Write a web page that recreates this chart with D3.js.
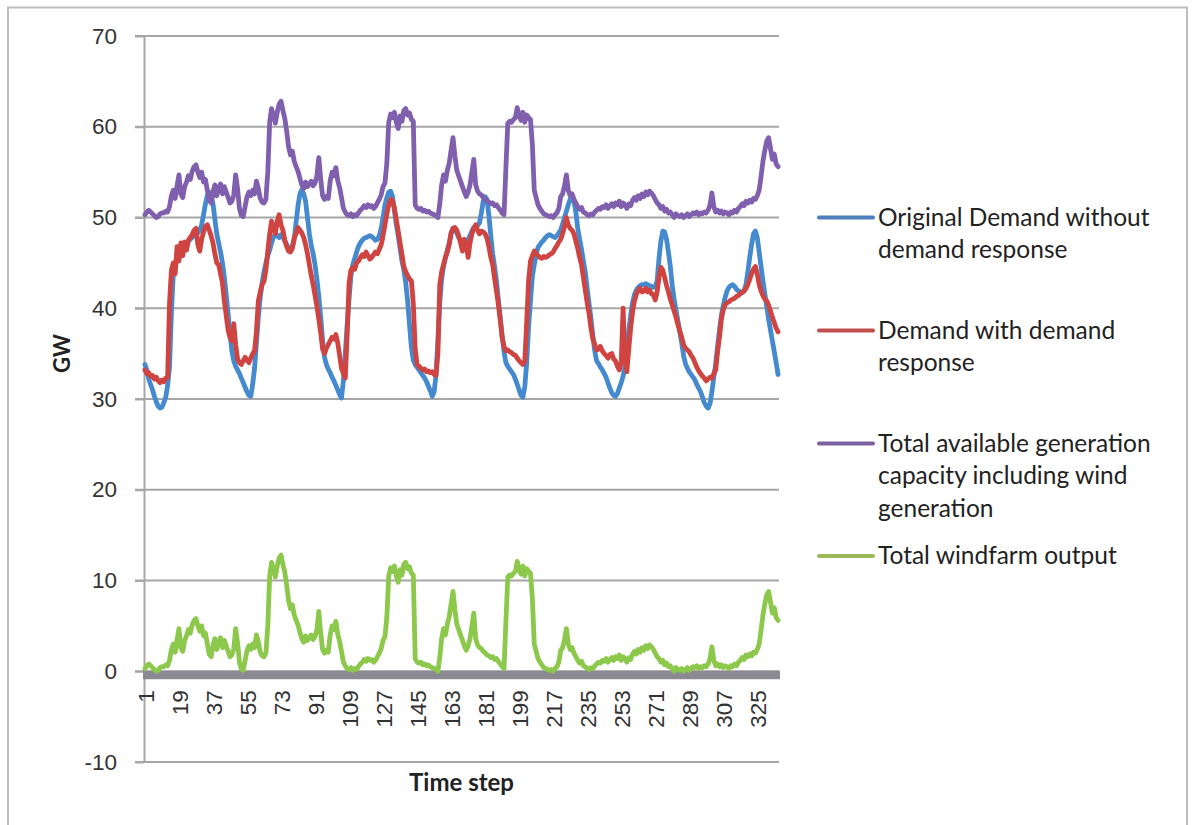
<!DOCTYPE html>
<html>
<head>
<meta charset="utf-8">
<script src="https://cdn.jsdelivr.net/npm/d3@7"></script>
<style>
  body { margin: 0; background: #ffffff; }
  svg { display: block; font-family: Lato, "Open Sans", sans-serif; }
</style>
</head>
<body>
<svg id="chart" width="1193" height="825"></svg>
<script>
// Half-hourly time steps over one week (336 steps)
const timeSteps = d3.range(1, 337);

// Original Demand without demand response (GW)
const originalDemand = [
  33.8, 33.2, 32.2, 31.6, 31.0, 30.3, 29.7, 29.2, 29.0, 29.1, 29.6, 30.2,
  31.5, 33.5, 39.5, 43.8, 44.8, 45.5, 46.0, 46.3, 46.6, 46.9, 47.2, 47.4,
  47.6, 47.8, 48.0, 48.2, 48.3, 48.6, 49.2, 50.3, 51.5, 52.4, 52.8, 52.6,
  51.5, 49.8, 48.2, 47.2, 46.2, 45.0, 43.4, 41.5, 39.4, 37.2, 35.3, 34.2,
  33.6, 33.2, 32.8, 32.3, 31.8, 31.3, 30.8, 30.4, 30.3, 31.6, 33.4, 36.2,
  39.0, 41.2, 42.8, 44.0, 45.0, 45.8, 46.4, 47.2, 47.8, 48.2, 48.0, 47.8,
  48.1, 47.9, 47.4, 47.0, 46.6, 46.4, 46.8, 47.6, 49.5, 51.3, 52.6, 53.1,
  52.6, 51.8, 50.0, 48.2, 46.9, 46.0, 44.8, 43.2, 41.3, 39.0, 36.5, 34.6,
  33.8, 33.3, 32.9, 32.4, 32.0, 31.5, 31.0, 30.5, 30.1, 32.0, 35.0, 38.2,
  41.0, 43.6, 44.8, 45.5, 46.2, 46.8, 47.2, 47.5, 47.7, 47.8, 47.9, 48.0,
  47.9, 47.7, 47.5, 47.6, 48.0, 48.8, 50.0, 51.4, 52.2, 52.8, 52.9, 52.3,
  50.8, 49.2, 48.0, 46.6, 45.2, 44.2, 42.8, 40.8, 38.2, 35.6, 34.3, 33.8,
  33.5, 33.2, 32.9, 32.6, 32.3, 31.9, 31.4, 30.9, 30.3, 30.8, 32.6, 36.5,
  40.6, 43.2, 44.6, 45.6, 46.4, 47.2, 48.2, 48.8, 48.6, 48.3, 47.8, 47.5,
  47.2, 47.0, 47.2, 47.6, 48.0, 48.5, 48.9, 49.0, 49.1, 49.4, 50.5, 51.8,
  52.3, 52.0, 50.2, 48.0, 46.0, 44.6, 43.0, 41.0, 39.0, 37.0, 35.2, 34.0,
  33.6, 33.3, 33.0, 32.7, 32.2, 31.6, 31.0, 30.4, 30.2, 31.4, 34.0, 38.0,
  40.8, 43.5, 44.8, 45.9, 46.7, 47.0, 47.3, 47.5, 47.8, 48.0, 48.1, 48.0,
  47.9, 47.8, 48.0, 48.3, 48.6, 49.3, 50.0, 50.7, 51.4, 52.0, 52.2, 51.8,
  50.6, 48.8, 47.6, 46.5, 45.2, 44.0, 42.2, 40.5, 38.9, 37.0, 35.3, 34.2,
  33.9, 33.5, 33.2, 32.8, 32.4, 31.8, 31.2, 30.7, 30.4, 30.3, 30.6, 31.2,
  31.8, 32.5, 33.6, 35.5, 37.5, 39.2, 40.6, 41.5, 42.0, 42.3, 42.5, 42.6,
  42.6, 42.7, 42.6, 42.5, 42.4, 42.3, 42.4, 43.0, 45.5, 47.4, 48.5, 48.4,
  47.6, 46.2, 44.6, 42.5, 41.0, 39.8, 38.6, 37.4, 36.2, 34.8, 33.9, 33.4,
  33.0, 32.7, 32.4, 32.1, 31.6, 31.2, 30.8, 30.2, 29.6, 29.2, 29.0, 29.5,
  30.8, 32.4, 33.9, 35.8, 37.6, 39.2, 40.3, 41.2, 41.9, 42.3, 42.5, 42.6,
  42.4, 42.1, 41.9, 41.8, 41.7, 41.9, 42.6, 44.0, 45.6, 47.0, 48.2, 48.5,
  47.8, 46.2, 44.6, 43.0, 41.6, 40.2, 38.8, 37.6, 36.4, 35.2, 34.0, 32.7
];

// Demand with demand response (GW)
const demandWithResponse = [
  33.2, 32.8, 32.9, 32.5, 32.6, 32.2, 32.4, 32.0, 31.8, 32.1, 31.9, 32.3,
  32.4, 40.5, 44.2, 45.0, 43.8, 46.8, 45.2, 47.2, 45.8, 47.3, 46.4, 47.5,
  47.8, 48.1, 48.6, 48.8, 47.0, 46.3, 47.6, 48.4, 49.0, 49.2, 48.6, 48.0,
  47.2, 46.0, 45.0, 44.8, 43.8, 42.8, 40.8, 39.2, 37.6, 36.8, 36.4, 38.3,
  36.0, 34.4, 34.0, 33.8, 34.2, 34.6, 34.3, 34.0, 34.5, 35.0, 35.3, 37.5,
  40.8, 41.8, 42.6, 43.0, 44.2, 46.3, 48.2, 49.6, 48.8, 48.2, 49.6, 50.3,
  49.2, 48.6, 47.5, 46.8, 46.3, 46.2, 46.6, 47.8, 48.2, 48.9, 48.6, 48.3,
  47.8, 47.0, 46.0, 44.8, 43.6, 42.6, 41.4, 40.2, 38.8, 37.3, 35.5, 35.0,
  35.6, 36.0, 36.4, 36.8, 36.6, 37.1, 36.2, 34.8, 33.4, 32.8, 32.3, 37.0,
  42.8, 44.2, 44.5, 44.3, 45.0, 45.2, 45.6, 45.9, 45.7, 46.2, 45.8, 45.4,
  45.6, 45.9, 46.2, 46.0, 46.5, 47.0, 48.0, 49.2, 50.4, 51.4, 52.0, 51.8,
  51.0, 49.8, 48.5, 47.2, 45.9, 44.6, 44.0, 43.6, 43.2, 43.0, 40.5, 35.5,
  33.8, 33.6, 33.4, 33.2, 33.3, 33.0, 33.1, 32.9, 33.0, 32.7, 32.6, 35.0,
  42.6, 44.0, 44.8, 45.6, 46.2, 47.0, 48.3, 48.8, 48.9, 48.6, 48.0, 47.2,
  46.3, 47.6, 47.0, 45.6, 47.2, 48.2, 48.8, 49.2, 48.6, 48.2, 48.5, 48.4,
  48.2, 47.7, 46.8, 45.6, 44.8, 43.3, 41.9, 40.4, 38.7, 36.8, 35.8, 35.3,
  35.4, 35.2, 35.1, 34.9, 34.8, 34.5, 34.2, 34.0, 33.8, 34.2, 38.5, 43.0,
  45.2, 45.8, 46.3, 46.0, 45.8, 45.6, 45.5, 45.7, 45.6, 45.7, 45.9, 46.0,
  46.2, 46.6, 46.9, 47.3, 47.6, 48.2, 49.0, 50.0, 49.2, 48.8, 48.6, 48.2,
  47.4, 46.6, 45.6, 44.8, 43.4, 42.0, 40.6, 39.4, 37.8, 36.6, 36.0, 35.4,
  35.5, 35.8, 35.3, 35.0, 34.8, 34.5, 34.9, 35.0, 34.4, 34.2, 33.6, 33.2,
  34.0, 40.0, 34.5, 33.0, 35.5, 37.8, 39.6, 40.8, 41.5, 42.0, 42.2, 41.8,
  41.9, 42.2, 41.8, 42.0, 41.6, 41.5, 40.9, 41.8, 43.4, 44.5, 44.2, 43.4,
  42.5, 41.8, 41.0, 40.4, 39.7, 39.0, 38.2, 37.5, 36.8, 36.0, 35.6, 35.4,
  35.2, 34.8, 34.5, 34.0, 33.5, 33.1, 32.8, 32.5, 32.3, 32.0, 32.2, 32.4,
  32.3, 32.8, 33.2, 35.2, 36.8, 38.8, 39.8, 40.4, 40.6, 40.7, 40.9, 41.0,
  41.1, 41.3, 41.4, 41.6, 41.8, 41.9, 42.2, 42.6, 43.2, 43.8, 44.3, 44.6,
  43.8, 42.6, 41.9, 41.4, 41.0, 40.8, 40.3, 39.7, 39.0, 38.4, 37.8, 37.4
];

// Total available generation capacity including wind generation (GW)
const availableCapacity = [
  50.3, 50.6, 50.8, 50.6, 50.4, 50.2, 50.0, 50.1, 50.4, 50.5, 50.5, 50.7,
  50.6, 51.2, 52.4, 53.0, 52.1, 53.5, 54.7, 52.6, 52.2, 53.4, 53.9, 54.6,
  54.2, 55.1, 55.6, 55.8, 55.0, 54.4, 55.0, 53.9, 54.2, 53.0, 51.9, 51.6,
  52.8, 53.6, 52.4, 53.2, 53.7, 52.6, 53.4, 52.8, 52.2, 51.6, 51.8, 52.5,
  54.7, 53.2, 51.0, 50.2, 50.1, 51.2, 52.3, 52.8, 52.4, 53.0, 52.6, 54.0,
  53.2, 52.1, 51.7, 51.6, 52.0, 55.0, 60.5, 62.0, 61.2, 60.4, 61.6, 62.5,
  62.8, 61.8, 60.9, 59.5, 57.8, 56.9, 57.3, 56.2, 55.6, 55.1, 54.3, 53.6,
  53.2, 53.9, 53.4, 53.7, 54.0, 53.5, 53.8, 54.6, 56.6, 54.2, 52.4, 52.0,
  52.3, 52.1, 54.0, 55.0, 54.6, 55.5, 54.1, 53.3, 52.2, 51.0, 50.6, 50.3,
  50.2, 50.4, 50.1, 50.3, 50.2, 50.5, 50.8, 51.0, 51.3, 51.1, 51.4, 51.2,
  51.3, 51.0, 51.2, 51.6, 52.0, 52.5, 53.4, 53.8, 56.0, 60.5, 61.4, 61.0,
  61.6, 60.5, 59.8, 61.2, 60.6, 61.8, 62.0, 61.3, 61.5, 60.8, 60.6, 51.4,
  51.0, 50.9, 51.0, 50.7, 50.8, 50.6, 50.7, 50.5, 50.4, 50.3, 50.2, 50.0,
  51.5, 53.6, 54.7, 54.0, 55.2, 56.0, 57.4, 58.8, 56.8, 55.2, 54.6, 54.0,
  53.4, 52.8, 52.3, 52.8, 53.6, 55.0, 56.4, 53.6, 52.9, 52.6, 52.5, 52.2,
  52.0, 51.8, 51.7, 51.5, 51.6, 51.3, 51.4, 51.1, 50.8, 50.5, 50.3, 55.5,
  60.4, 60.6, 60.5, 60.8, 61.0, 62.1, 61.2, 60.7, 61.6, 60.5, 61.3, 61.0,
  60.8, 58.0, 53.0, 52.2, 51.4, 51.0, 50.7, 50.4, 50.3, 50.2, 50.1, 50.2,
  50.0, 50.3, 50.5, 51.0, 52.3, 52.6, 53.5, 54.7, 53.0, 52.4, 52.6, 52.0,
  51.6, 51.2, 50.9, 51.1, 50.6, 50.5, 50.3, 50.2, 50.4, 50.3, 50.6, 50.8,
  51.0, 50.9, 51.2, 51.1, 51.4, 51.0, 51.3, 51.5, 51.2, 51.6, 51.4, 51.8,
  51.2, 51.6, 51.4, 51.0, 51.5, 51.3, 51.9, 52.2, 51.9, 52.4, 52.1, 52.6,
  52.3, 52.8, 52.5, 52.9, 52.7, 52.4, 52.0, 51.6, 51.4, 51.0, 51.2, 50.7,
  50.9, 50.5, 50.6, 50.3, 50.0, 50.4, 50.2, 50.1, 50.3, 50.0, 50.2, 50.4,
  50.1, 50.3, 50.5, 50.4, 50.6, 50.3, 50.5, 50.4, 50.6, 50.5, 50.8, 51.4,
  52.7, 51.2, 50.6, 50.8, 50.5, 50.7, 50.4, 50.6, 50.5, 50.3, 50.6, 50.5,
  50.8, 50.6, 51.0, 51.2, 51.5, 51.3, 51.8, 51.6, 51.9, 51.7, 52.1, 52.0,
  52.4, 53.0, 54.5, 56.2, 57.4, 58.4, 58.8, 57.6, 56.4, 57.0, 55.9, 55.6
];

// Total windfarm output (GW)
const windOutput = [
  0.3, 0.6, 0.8, 0.6, 0.4, 0.2, 0.0, 0.1, 0.4, 0.5, 0.5, 0.7,
  0.6, 1.2, 2.4, 3.0, 2.1, 3.5, 4.7, 2.6, 2.2, 3.4, 3.9, 4.6,
  4.2, 5.1, 5.6, 5.8, 5.0, 4.4, 5.0, 3.9, 4.2, 3.0, 1.9, 1.6,
  2.8, 3.6, 2.4, 3.2, 3.7, 2.6, 3.4, 2.8, 2.2, 1.6, 1.8, 2.5,
  4.7, 3.2, 1.0, 0.2, 0.1, 1.2, 2.3, 2.8, 2.4, 3.0, 2.6, 4.0,
  3.2, 2.1, 1.7, 1.6, 2.0, 5.0, 10.5, 12.0, 11.2, 10.4, 11.6, 12.5,
  12.8, 11.8, 10.9, 9.5, 7.8, 6.9, 7.3, 6.2, 5.6, 5.1, 4.3, 3.6,
  3.2, 3.9, 3.4, 3.7, 4.0, 3.5, 3.8, 4.6, 6.6, 4.2, 2.4, 2.0,
  2.3, 2.1, 4.0, 5.0, 4.6, 5.5, 4.1, 3.3, 2.2, 1.0, 0.6, 0.3,
  0.2, 0.4, 0.1, 0.3, 0.2, 0.5, 0.8, 1.0, 1.3, 1.1, 1.4, 1.2,
  1.3, 1.0, 1.2, 1.6, 2.0, 2.5, 3.4, 3.8, 6.0, 10.5, 11.4, 11.0,
  11.6, 10.5, 9.8, 11.2, 10.6, 11.8, 12.0, 11.3, 11.5, 10.8, 10.6, 1.4,
  1.0, 0.9, 1.0, 0.7, 0.8, 0.6, 0.7, 0.5, 0.4, 0.3, 0.2, 0.0,
  1.5, 3.6, 4.7, 4.0, 5.2, 6.0, 7.4, 8.8, 6.8, 5.2, 4.6, 4.0,
  3.4, 2.8, 2.3, 2.8, 3.6, 5.0, 6.4, 3.6, 2.9, 2.6, 2.5, 2.2,
  2.0, 1.8, 1.7, 1.5, 1.6, 1.3, 1.4, 1.1, 0.8, 0.5, 0.3, 5.5,
  10.4, 10.6, 10.5, 10.8, 11.0, 12.1, 11.2, 10.7, 11.6, 10.5, 11.3, 11.0,
  10.8, 8.0, 3.0, 2.2, 1.4, 1.0, 0.7, 0.4, 0.3, 0.2, 0.1, 0.2,
  0.0, 0.3, 0.5, 1.0, 2.3, 2.6, 3.5, 4.7, 3.0, 2.4, 2.6, 2.0,
  1.6, 1.2, 0.9, 1.1, 0.6, 0.5, 0.3, 0.2, 0.4, 0.3, 0.6, 0.8,
  1.0, 0.9, 1.2, 1.1, 1.4, 1.0, 1.3, 1.5, 1.2, 1.6, 1.4, 1.8,
  1.2, 1.6, 1.4, 1.0, 1.5, 1.3, 1.9, 2.2, 1.9, 2.4, 2.1, 2.6,
  2.3, 2.8, 2.5, 2.9, 2.7, 2.4, 2.0, 1.6, 1.4, 1.0, 1.2, 0.7,
  0.9, 0.5, 0.6, 0.3, 0.0, 0.4, 0.2, 0.1, 0.3, 0.0, 0.2, 0.4,
  0.1, 0.3, 0.5, 0.4, 0.6, 0.3, 0.5, 0.4, 0.6, 0.5, 0.8, 1.4,
  2.7, 1.2, 0.6, 0.8, 0.5, 0.7, 0.4, 0.6, 0.5, 0.3, 0.6, 0.5,
  0.8, 0.6, 1.0, 1.2, 1.5, 1.3, 1.8, 1.6, 1.9, 1.7, 2.1, 2.0,
  2.4, 3.0, 4.5, 6.2, 7.4, 8.4, 8.8, 7.6, 6.4, 7.0, 5.9, 5.6
];

const yTickValues = [-10, 0, 10, 20, 30, 40, 50, 60, 70];
const xTickLabels = [1, 19, 37, 55, 73, 91, 109, 127, 145, 163, 181, 199, 217, 235, 253, 271, 289, 307, 325];

const seriesNames = [
  ["Original Demand without", "demand response"],
  ["Demand with demand", "response"],
  ["Total available generation", "capacity including wind", "generation"],
  ["Total windfarm output"]
];
const seriesColors = ["#4589cf", "#cf4440", "#7f5fae", "#8cc84b"];
const legendColors = ["#4f7fbc", "#c0504d", "#7d60a0", "#9bbb59"];
const seriesData = [originalDemand, demandWithResponse, availableCapacity, windOutput];

const svg = d3.select("#chart");
const plot = { left: 144, right: 779, top: 36, bottom: 762 };

// Outer chart frame
svg.append("rect")
  .attr("x", 8).attr("y", 7.5)
  .attr("width", 1179).attr("height", 840)
  .attr("fill", "none").attr("stroke", "#bdbdbd").attr("stroke-width", 2);

const x = d3.scaleLinear()
  .domain([0.5, timeSteps.length + 0.5])
  .range([plot.left, plot.right]);
const y = d3.scaleLinear()
  .domain([-10, 70])
  .range([plot.bottom, plot.top]);

// Horizontal gridlines with short ticks on the left
svg.append("g")
  .selectAll("line")
  .data(yTickValues)
  .join("line")
  .attr("x1", plot.left - 9).attr("x2", plot.right)
  .attr("y1", d => y(d)).attr("y2", d => y(d))
  .attr("stroke", "#a6a6a6").attr("stroke-width", 2);

// Value axis
const yAxis = svg.append("g")
  .attr("transform", `translate(${plot.left},0)`)
  .call(d3.axisLeft(y).tickValues(yTickValues).tickSize(9).tickPadding(18)
    .tickSizeOuter(0).tickFormat(d => String(d)));
yAxis.select(".domain").attr("stroke", "#a6a6a6").attr("stroke-width", 2);
yAxis.selectAll(".tick line").attr("stroke", "#a6a6a6").attr("stroke-width", 2);
yAxis.selectAll("text")
  .attr("fill", "#333333")
  .style("font-size", "22.5px");

// Thick zero baseline
svg.append("line")
  .attr("x1", plot.left - 1).attr("x2", plot.right + 1)
  .attr("y1", y(0) + 3.8).attr("y2", y(0) + 3.8)
  .attr("stroke", "#8b8a92").attr("stroke-width", 8.5);

// Category axis labels (rotated)
const xAxis = svg.append("g")
  .attr("transform", `translate(0,${y(0)})`)
  .call(d3.axisBottom(x).tickValues(xTickLabels).tickSize(0).tickFormat(d => String(d)));
xAxis.select(".domain").remove();
xAxis.selectAll("text")
  .attr("transform", "rotate(-90)")
  .attr("x", -19)
  .attr("y", 0)
  .attr("dy", "0.36em")
  .attr("text-anchor", "end")
  .attr("fill", "#333333")
  .style("font-size", "22.5px");

// Series lines
const line = d3.line()
  .x((d, i) => x(timeSteps[i]))
  .y(d => y(d));

svg.append("g")
  .selectAll("path")
  .data(seriesData)
  .join("path")
  .attr("d", d => line(d))
  .attr("fill", "none")
  .attr("stroke", (d, i) => seriesColors[i])
  .attr("stroke-width", 4.8)
  .attr("stroke-linejoin", "round")
  .attr("stroke-linecap", "round");

// Axis titles
svg.append("text")
  .attr("transform", `translate(70,${(y(30) + y(40)) / 2}) rotate(-90)`)
  .attr("text-anchor", "middle")
  .attr("fill", "#222222")
  .style("font-size", "22px").style("font-weight", "bold")
  .text("GW");

svg.append("text")
  .attr("x", (plot.left + plot.right) / 2)
  .attr("y", 791)
  .attr("text-anchor", "middle")
  .attr("fill", "#222222")
  .style("font-size", "24px").style("font-weight", "bold")
  .text("Time step");

// Legend
const legendTop = [217.5, 330.5, 443.5, 556];
const legend = svg.append("g");
seriesNames.forEach((lines, i) => {
  const g = legend.append("g").attr("transform", `translate(0,${legendTop[i]})`);
  g.append("line")
    .attr("x1", 819).attr("x2", 873)
    .attr("y1", 0).attr("y2", 0)
    .attr("stroke", legendColors[i]).attr("stroke-width", 4)
    .attr("stroke-linecap", "round");
  const t = g.append("text")
    .attr("x", 878).attr("y", 8)
    .attr("fill", "#222222")
    .style("font-size", "24.5px");
  lines.forEach((s, k) => {
    t.append("tspan").attr("x", 878).attr("dy", k === 0 ? 0 : 32.7).text(s);
  });
});
</script>
</body>
</html>
